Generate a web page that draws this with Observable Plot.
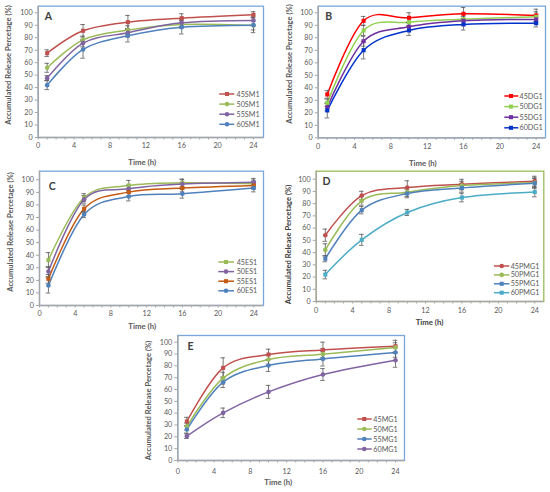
<!DOCTYPE html>
<html>
<head>
<meta charset="utf-8">
<script src="https://cdn.jsdelivr.net/npm/d3@7"></script>
<script src="https://cdn.jsdelivr.net/npm/@observablehq/plot@0.6"></script>
<style>
  body { margin: 0; background: #fff; }
  #fig { position: relative; width: 550px; height: 492px; overflow: hidden; background: #fff; font-family: Lato, "Open Sans", sans-serif; }
  #fig > svg { position: absolute; }
  #legend { position: absolute; left: 0; top: 0; pointer-events: none; }
</style>
</head>
<body>
<div id="fig"></div>
<script>
// ---------- data ----------
const times = [1, 5, 10, 16, 24];
const xTickValues = d3.range(0, 25, 1);
const xLabelEvery = 4;
const yTickValues = [0, 10, 20, 30, 40, 50, 60, 70, 80, 90, 100];
const yTitle = "Accumulated Release Percetage (%)";
const xTitle = "Time (h)";

const seriesA = ["45SM1", "50SM1", "55SM1", "60SM1"];
const valuesA = [[67.6, 85.6, 92.5, 95.7, 98.4], [55.9, 78.3, 86.1, 90.6, 89.8], [47.6, 75.7, 84.0, 92.0, 93.9], [42.0, 70.6, 81.6, 88.5, 90.1]];
const errorsA = [[2.7, 5.0, 5.4, 3.5, 2.5], [3.6, 3.0, 3.5, 3.0, 3.5], [2.0, 3.0, 3.5, 3.0, 3.0], [3.6, 7.0, 5.0, 5.5, 6.0]];
const colorsA = ["#c0504d", "#9bbb59", "#8064a2", "#4f81bd"];
const symbolsA = ["square", "circle", "circle", "circle"];

const seriesB = ["45DG1", "50DG1", "55DG1", "60DG1"];
const valuesB = [[34.7, 93.6, 96.0, 99.2, 97.9], [28.0, 85.9, 92.5, 94.9, 96.8], [24.5, 77.3, 88.8, 93.6, 94.7], [21.9, 70.1, 85.9, 90.7, 91.7]];
const errorsB = [[3.0, 3.5, 4.0, 5.0, 5.0], [3.0, 4.0, 3.5, 4.0, 4.0], [3.0, 4.0, 3.5, 3.5, 3.5], [6.0, 7.0, 4.0, 4.5, 3.0]];
const colorsB = ["#ff0000", "#92d050", "#7030a0", "#0033cc"];
const symbolsB = ["square", "square", "square", "square"];

const seriesC = ["45ES1", "50ES1", "55ES1", "60ES1"];
const valuesC = [[36.1, 85.9, 95.5, 97.6, 96.8], [27.0, 84.4, 92.8, 96.6, 98.1], [21.2, 76.9, 90.2, 93.4, 95.5], [15.9, 72.4, 86.7, 88.9, 93.4]];
const errorsC = [[6.0, 3.0, 4.0, 3.0, 3.0], [4.0, 3.0, 3.0, 3.5, 3.0], [3.5, 3.0, 3.0, 3.0, 3.0], [6.0, 2.5, 3.5, 3.5, 3.0]];
const colorsC = ["#9bbb59", "#8064a2", "#c55a11", "#4f81bd"];
const symbolsC = ["square", "circle", "square", "circle"];

const seriesD = ["45PMG1", "50PMG1", "55PMG1", "60PMG1"];
const valuesD = [[54.2, 86.6, 93.2, 95.9, 98.4], [42.2, 82.3, 89.4, 94.8, 97.0], [35.0, 74.7, 88.3, 92.9, 96.7], [22.0, 50.4, 72.8, 85.0, 89.6]];
const errorsD = [[5.0, 3.5, 5.5, 4.0, 4.0], [5.0, 3.5, 3.5, 3.5, 4.0], [2.5, 3.0, 3.5, 3.5, 4.0], [3.5, 4.5, 2.5, 3.5, 4.0]];
const colorsD = ["#c0504d", "#9bbb59", "#4f81bd", "#4bacc6"];
const symbolsD = ["circle", "circle", "square", "square"];

const seriesE = ["45MG1", "50MG1", "55MG1", "60MG1"];
const valuesE = [[33.0, 78.3, 89.6, 93.5, 96.6], [28.7, 69.6, 85.4, 89.9, 95.5], [26.2, 66.2, 80.3, 85.9, 91.3], [20.6, 40.3, 58.0, 72.7, 84.8]];
const errorsE = [[3.5, 8.5, 4.5, 6.5, 5.0], [3.0, 5.0, 4.0, 4.5, 4.0], [3.0, 4.5, 5.0, 6.0, 4.0], [2.0, 4.0, 5.5, 5.0, 6.0]];
const colorsE = ["#c0504d", "#9bbb59", "#4f81bd", "#8064a2"];
const symbolsE = ["square", "circle", "circle", "circle"];

// ---------- layout (page pixels) ----------
const panels = [
  {letter: "A", series: seriesA, values: valuesA, errors: errorsA, colors: colorsA, symbols: symbolsA, frame: "#7aa6dc",
   box: [0, 0, 275, 166], left: 37.7, top: 5.7, y100: 12.3, y0: 137, x24: 253, right: 263, tickOff: 8.3,
   letterPos: [48, 16], yLab: [8, 64.5], xLab: [141.7, 162],
   legend: {x1: 219.3, x2: 234.3, mx: 227, tx: 236.5, y: 94, step: 10.1}},
  {letter: "B", series: seriesB, values: valuesB, errors: errorsB, colors: colorsB, symbols: symbolsB, frame: "#7aa6dc",
   box: [275, 0, 275, 166], left: 317.7, top: 5.7, y100: 12.3, y0: 137.3, x24: 535.7, right: 545, tickOff: 8.4,
   letterPos: [328.3, 16], yLab: [289, 63.5], xLab: [422.3, 162.7],
   legend: {x1: 504.3, x2: 518.3, mx: 511, tx: 519.5, y: 96, step: 10.6}},
  {letter: "C", series: seriesC, values: valuesC, errors: errorsC, colors: colorsC, symbols: symbolsC, frame: "#7aa6dc",
   box: [0, 166, 275, 164], left: 39, top: 170.7, y100: 179.3, y0: 305, x24: 253.3, right: 263, tickOff: 7.7,
   letterPos: [51.7, 186], yLab: [10, 231.5], xLab: [141.7, 325.7],
   legend: {x1: 218.3, x2: 234, mx: 226, tx: 236.7, y: 262, step: 9.6}},
  {letter: "D", series: seriesD, values: valuesD, errors: errorsD, colors: colorsD, symbols: symbolsD, frame: "#9bbb59",
   box: [275, 166, 275, 164], left: 315.7, top: 170.7, y100: 178.7, y0: 301, x24: 534.3, right: 543.3, tickOff: 9,
   letterPos: [326, 181], yLab: [288, 244], xLab: [429, 321.7],
   legend: {x1: 494, x2: 509.3, mx: 501.7, tx: 510.7, y: 266, step: 8.9}},
  {letter: "E", series: seriesE, values: valuesE, errors: errorsE, colors: colorsE, symbols: symbolsE, frame: "#7aa6dc",
   box: [130, 330, 290, 162], left: 177.3, top: 335, y100: 341.7, y0: 460, x24: 395, right: 404, tickOff: 10.7,
   letterPos: [190, 345.7], yLab: [148.3, 400], xLab: [277.7, 481.7],
   legend: {x1: 357.3, x2: 371.7, mx: 364.3, tx: 373.3, y: 419, step: 10}}
];

const fig = document.getElementById("fig");
const FONT = "Lato, 'Open Sans', sans-serif";
const axisStroke = "#a6a6a6";
const textColor = "#595959";

for (const p of panels) {
  const [bx, by, bw, bh] = p.box;
  const rows = [];
  p.series.forEach((s, i) => times.forEach((t, j) => rows.push({s, t, v: p.values[i][j], e: p.errors[i][j]})));
  const mL = p.left - bx, mT = p.top - by, mR = bx + bw - p.right, mB = by + bh - p.y0;
  const tickSize = 2.5;
  const chart = Plot.plot({
    width: bw, height: bh,
    marginLeft: mL, marginTop: mT, marginRight: mR, marginBottom: mB,
    style: {background: "transparent", fontFamily: FONT, overflow: "visible"},
    x: {domain: [0, 24], insetRight: p.right - p.x24},
    y: {domain: [0, 100], insetTop: p.y100 - p.top},
    color: {domain: p.series, range: p.colors},
    symbol: {domain: p.series, range: p.symbols},
    marks: [
      Plot.frame({stroke: p.frame, strokeWidth: 1.3}),
      Plot.ruleX([0], {stroke: axisStroke, strokeWidth: 1.3}),
      Plot.ruleY([0], {stroke: axisStroke, strokeWidth: 1.3}),
      Plot.axisY({ticks: yTickValues, tickSize: 3, tickPadding: 2.5, fontSize: 7.2, stroke: axisStroke, fill: textColor, label: null}),
      Plot.axisX({ticks: xTickValues, tickFormat: d => d % xLabelEvery === 0 ? d : "", tickSize, tickPadding: p.tickOff - 2.6 - tickSize,
                  fontSize: 7.2, stroke: axisStroke, fill: textColor, label: null}),
      Plot.line(rows, {x: "t", y: "v", z: "s", stroke: "s", strokeWidth: 1.5, curve: "cardinal"}),
      Plot.ruleX(rows, {x: "t", y1: d => d.v - d.e, y2: d => d.v + d.e, stroke: "#555", strokeWidth: 0.8}),
      Plot.ruleY(rows, {y: d => d.v + d.e, x1: d => d.t - 0.25, x2: d => d.t + 0.25, stroke: "#555", strokeWidth: 0.8}),
      Plot.ruleY(rows, {y: d => d.v - d.e, x1: d => d.t - 0.25, x2: d => d.t + 0.25, stroke: "#555", strokeWidth: 0.8}),
      Plot.dot(rows, {x: "t", y: "v", fill: "s", symbol: "s", r: 2.3}),
      Plot.text([p.letter], {frameAnchor: "top-left", dx: p.letterPos[0] - p.left, dy: p.letterPos[1] - p.top,
                 fontSize: 10.5, fontWeight: "bold", fill: "#404040", textAnchor: "middle", lineAnchor: "middle"}),
      Plot.text([yTitle], {frameAnchor: "top-left", dx: p.yLab[0] - p.left, dy: p.yLab[1] - p.top, rotate: -90,
                 fontSize: 7.6, fontWeight: "bold", fill: p.letter === "D" ? "#404040" : textColor, textAnchor: "middle", lineAnchor: "middle"}),
      Plot.text([xTitle], {frameAnchor: "top-left", dx: p.xLab[0] - p.left, dy: p.xLab[1] - p.top,
                 fontSize: 7.8, fontWeight: "bold", fill: p.letter === "D" ? "#404040" : textColor, textAnchor: "middle", lineAnchor: "middle"})
    ]
  });
  chart.style.left = bx + "px";
  chart.style.top = by + "px";
  fig.appendChild(chart);
}

// ---------- legends ----------
const leg = d3.select(fig).append("svg").attr("id", "legend").attr("width", 550).attr("height", 492)
  .style("font-family", FONT);
for (const p of panels) {
  const L = p.legend;
  p.series.forEach((s, i) => {
    const y = L.y + i * L.step;
    const g = leg.append("g");
    g.append("line").attr("x1", L.x1).attr("x2", L.x2).attr("y1", y).attr("y2", y)
      .attr("stroke", p.colors[i]).attr("stroke-width", 1.5);
    g.append("path").attr("transform", `translate(${L.mx},${y})`)
      .attr("d", d3.symbol(p.symbols[i] === "square" ? d3.symbolSquare : d3.symbolCircle, 2.3 * 2.3 * Math.PI)())
      .attr("fill", p.colors[i]);
    g.append("text").attr("x", L.tx).attr("y", y).attr("dy", "0.35em").attr("font-size", 7.2)
      .attr("fill", textColor).text(s);
  });
}
</script>
</body>
</html>
